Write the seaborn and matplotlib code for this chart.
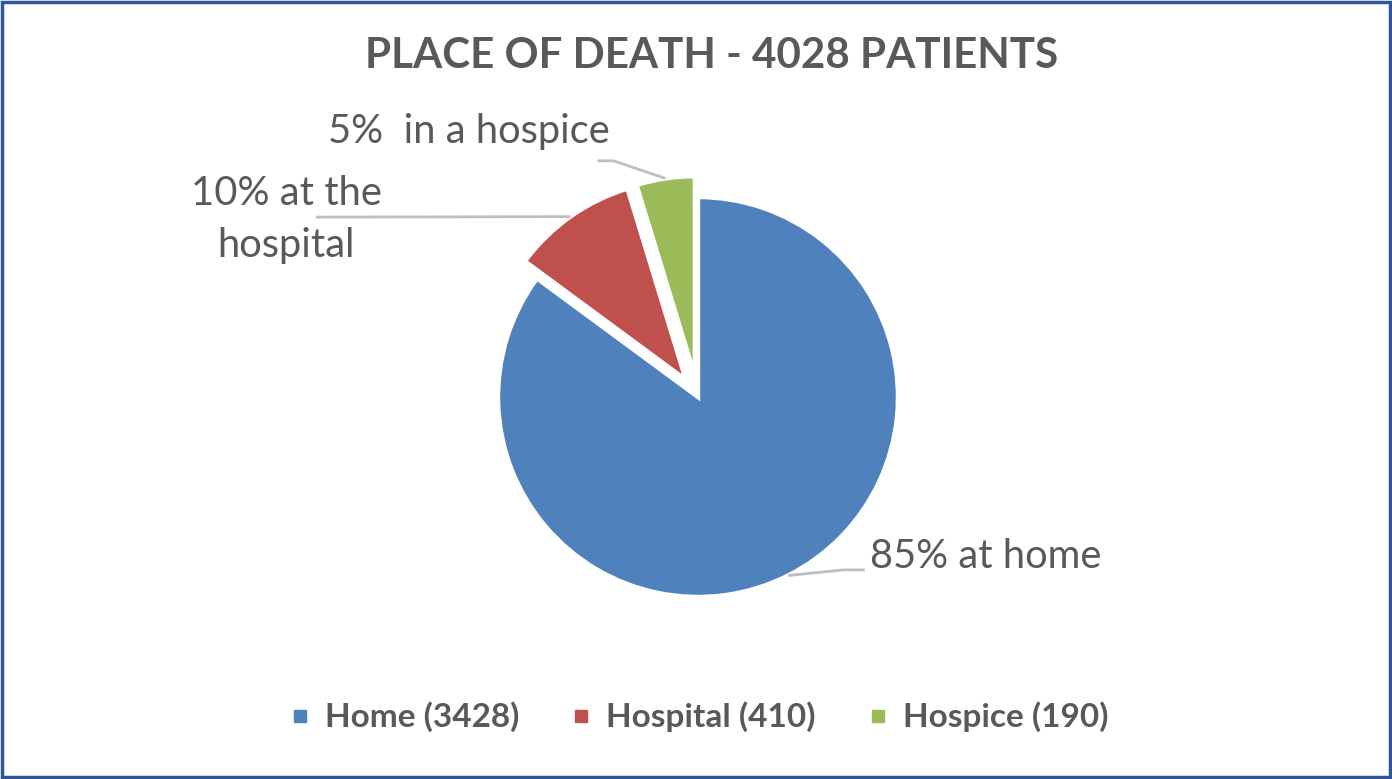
"""
Pie chart: place of death for 4028 patients
"""

## Import packages
import matplotlib
matplotlib.use("Agg")
import matplotlib.pyplot as plt
from matplotlib.lines import Line2D
from matplotlib.patches import Rectangle
import seaborn as sns
import numpy as np


## Data
places = ['Home', 'Hospital', 'Hospice']
patients = [3428, 410, 190]
label_texts = ['85% at home', '10% at the\nhospital', '5%  in a hospice']
title = 'PLACE OF DEATH - 4028 PATIENTS'


## Style
sns.set_theme(style='white')
plt.rcParams['font.family'] = ['Lato', 'DejaVu Sans']

palette = ['#4F81BD', '#C0504D', '#9BBB59']
text_grey = '#595959'
line_grey = '#BFBFBF'
explode = [0, 0.105, 0.105]

# Figure and pie axes (pixel layout of the reference)
W, H = 1392, 779
fig = plt.figure(figsize=(W / 100, H / 100), dpi=100)
cx, cy, r_px = 698, 397, 199
half = 250
ax = fig.add_axes([(cx - half) / W, (H - cy - half) / H, 2 * half / W, 2 * half / H])
lim = half / r_px
ax.set_xlim(-lim, lim)
ax.set_ylim(-lim, lim)
ax.set_aspect('equal')
ax.axis('off')


def px(x, y):
    # convert reference pixel position to pie data units
    return (x - cx) / r_px, (cy - y) / r_px


## Pie
wedges, _ = ax.pie(patients, colors=palette, startangle=90, counterclock=False,
                   explode=explode, radius=1,
                   wedgeprops=dict(edgecolor='white', linewidth=3.2))

# Labels with leader lines
label_pos = [(869, 556, 'left'), (288, 220, 'center'), (470, 133, 'center')]
line_space = [1.2, 1.5, 1.2]
elbows = [[(843, 569), (864, 569)], [(318, 218)], [(614, 162), (598, 162)]]
for w, txt, (tx, ty, ha), ls, elb, ex in zip(wedges, label_texts, label_pos,
                                              line_space, elbows, explode):
    mid = np.deg2rad((w.theta1 + w.theta2) / 2)
    ox, oy = ex * np.cos(mid), ex * np.sin(mid)
    start = (ox + np.cos(mid), oy + np.sin(mid))
    pts = [start] + [px(*p) for p in elb]
    xs, ys = zip(*pts)
    ax.plot(xs, ys, color=line_grey, lw=2, clip_on=False, solid_capstyle='butt')
    lx, ly = px(tx, ty)
    ax.text(lx, ly, txt, ha=ha, va='center', fontsize=28.7, color=text_grey,
            linespacing=ls, clip_on=False)

# Title
fig.text(712 / W, 1 - 56 / H, title, ha='center', va='center', fontsize=30.3,
         fontweight='bold', color=text_grey)

# Legend
handles = [Line2D([], [], marker='s', linestyle='none', markersize=9, color=c)
           for c in palette]
labels = ['{} ({})'.format(p, n) for p, n in zip(places, patients)]
leg = fig.legend(handles, labels, loc='center', bbox_to_anchor=(700 / W, 1 - 717 / H),
                 ncol=3, frameon=False, handlelength=0.5, handletextpad=0.5,
                 columnspacing=1.6, prop={'size': 24, 'weight': 'bold'})
for t in leg.get_texts():
    t.set_color(text_grey)

# Outer border
fig.patches.append(Rectangle((0.0015, 0.0025), 0.997, 0.995, transform=fig.transFigure,
                             fill=False, edgecolor='#2F5597', linewidth=2.5))

plt.savefig('out.png', dpi=100)
